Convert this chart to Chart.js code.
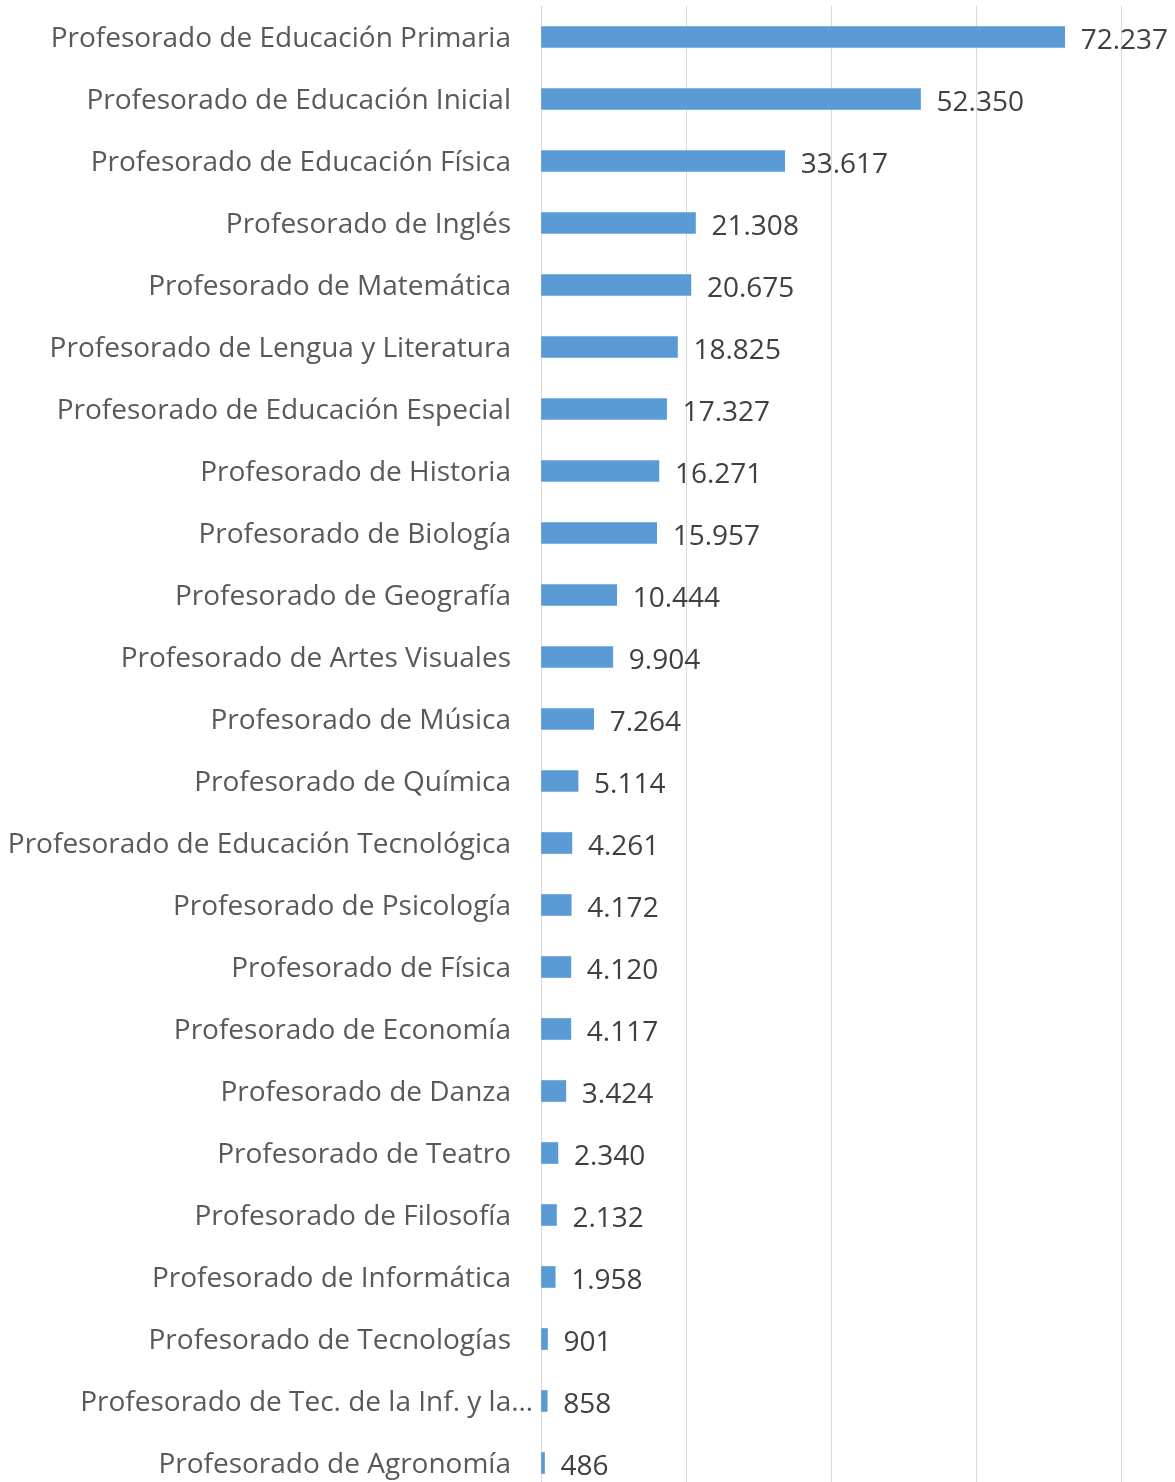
<!DOCTYPE html>
<html>
<head>
<meta charset="utf-8">
<script src="https://cdn.jsdelivr.net/npm/chart.js@4"></script>
<style>
  html, body { margin: 0; padding: 0; background: #fff; overflow: hidden; }
</style>
</head>
<body>
<canvas id="chart" width="1175" height="1494"></canvas>
<script>
const carreras = [
    'Profesorado de Educación Primaria',
    'Profesorado de Educación Inicial',
    'Profesorado de Educación Física',
    'Profesorado de Inglés',
    'Profesorado de Matemática',
    'Profesorado de Lengua y Literatura',
    'Profesorado de Educación Especial',
    'Profesorado de Historia',
    'Profesorado de Biología',
    'Profesorado de Geografía',
    'Profesorado de Artes Visuales',
    'Profesorado de Música',
    'Profesorado de Química',
    'Profesorado de Educación Tecnológica',
    'Profesorado de Psicología',
    'Profesorado de Física',
    'Profesorado de Economía',
    'Profesorado de Danza',
    'Profesorado de Teatro',
    'Profesorado de Filosofía',
    'Profesorado de Informática',
    'Profesorado de Tecnologías',
    'Profesorado de Tec. de la Inf. y la…',
    'Profesorado de Agronomía'
];

const alumnos = [72237, 52350, 33617, 21308, 20675, 18825, 17327, 16271, 15957, 10444,
    9904, 7264, 5114, 4261, 4172, 4120, 4117, 3424, 2340, 2132, 1958, 901, 858, 486];

const xTicks = [0, 20000, 40000, 60000, 80000];

// the truncated label sits closer to the axis in the original
const truncatedIdx = carreras.findIndex(c => c.endsWith('…'));

const FONT = 'Open Sans';
const FONT_SIZE = 28;

function formatNum(n) {
    return n.toString().replace(/\B(?=(\d{3})+(?!\d))/g, '.');
}

// value labels to the right of each bar + the truncated category label
const valueLabels = {
    id: 'valueLabels',
    afterDatasetsDraw(chart) {
        const ctx = chart.ctx;
        const meta = chart.getDatasetMeta(0);
        ctx.save();
        ctx.font = FONT_SIZE + 'px "' + FONT + '"';
        ctx.fillStyle = '#404040';
        ctx.textAlign = 'left';
        ctx.textBaseline = 'middle';
        meta.data.forEach((bar, i) => {
            ctx.fillText(formatNum(alumnos[i]), bar.x + 16, bar.y + 4);
        });

        if (truncatedIdx >= 0) {
            const y = chart.scales.y;
            ctx.fillStyle = '#595959';
            ctx.textAlign = 'right';
            ctx.fillText(carreras[truncatedIdx], y.right - 8, y.getPixelForTick(truncatedIdx) + 2);
        }
        ctx.restore();
    }
};

new Chart(document.getElementById('chart'), {
    type: 'bar',
    data: {
        labels: carreras,
        datasets: [{
            data: alumnos,
            backgroundColor: '#5b9bd5',
            barThickness: 21
        }]
    },
    options: {
        indexAxis: 'y',
        responsive: false,
        animation: false,
        layout: { padding: { top: 6, right: 54, bottom: 0, left: 0 } },
        plugins: { legend: { display: false }, tooltip: { enabled: false } },
        scales: {
            x: {
                min: xTicks[0],
                max: xTicks[xTicks.length - 1],
                afterBuildTicks: (scale) => { scale.ticks = xTicks.map(v => ({ value: v })); },
                afterFit: (scale) => { scale.height = 0; },
                ticks: { display: false },
                grid: { color: '#d9d9d9', lineWidth: 1, drawTicks: false },
                border: { display: false }
            },
            y: {
                afterFit: (scale) => { scale.width = 541; scale.paddingTop = 0; scale.paddingBottom = 0; },
                ticks: {
                    color: (c) => c.index === truncatedIdx ? 'rgba(0,0,0,0)' : '#595959',
                    font: { family: FONT, size: FONT_SIZE },
                    padding: 30,
                    labelOffset: 2
                },
                grid: { display: false, drawTicks: false },
                border: { display: true, color: '#d9d9d9', width: 1 }
            }
        }
    },
    plugins: [valueLabels]
});
</script>
</body>
</html>
